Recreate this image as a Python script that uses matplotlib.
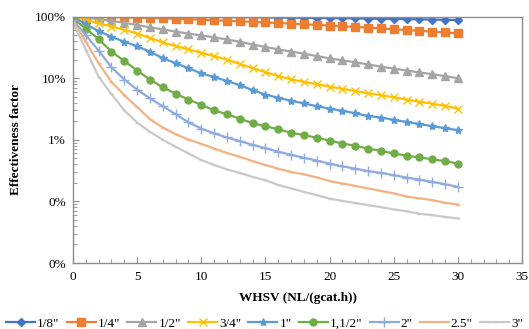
import numpy as np
import matplotlib
matplotlib.use("Agg")
import matplotlib.pyplot as plt
from matplotlib.ticker import FuncFormatter, MultipleLocator, LogLocator

plt.rcParams['font.family'] = ['Liberation Serif', 'DejaVu Serif']

whsv = list(range(0, 31))

eta_1_8 = [1.000, 1.000, 0.999, 0.999, 0.998, 0.996, 0.994, 0.993, 0.991, 0.988,
           0.986, 0.983, 0.980, 0.977, 0.973, 0.969, 0.965, 0.960, 0.956, 0.951,
           0.945, 0.940, 0.934, 0.928, 0.922, 0.915, 0.908, 0.901, 0.894, 0.886, 0.878]
eta_1_4 = [1.000, 0.998, 0.993, 0.985, 0.975, 0.963, 0.950, 0.936, 0.921, 0.905,
           0.889, 0.872, 0.855, 0.838, 0.821, 0.803, 0.786, 0.768, 0.750, 0.732,
           0.715, 0.697, 0.680, 0.662, 0.643, 0.624, 0.605, 0.587, 0.569, 0.552, 0.535]
eta_1_2 = [1.000, 0.965, 0.910, 0.850, 0.790, 0.730, 0.670, 0.620, 0.570, 0.530,
           0.495, 0.460, 0.425, 0.390, 0.352, 0.320, 0.294, 0.270, 0.250, 0.228,
           0.210, 0.195, 0.181, 0.167, 0.154, 0.143, 0.133, 0.124, 0.116, 0.108, 0.100]
eta_3_4 = [1.000, 0.890, 0.780, 0.690, 0.610, 0.530, 0.450, 0.380, 0.333, 0.293,
           0.258, 0.228, 0.200, 0.170, 0.145, 0.125, 0.108, 0.096, 0.087, 0.080,
           0.073, 0.067, 0.062, 0.057, 0.053, 0.049, 0.045, 0.0415, 0.0385, 0.0355, 0.032]
eta_1 = [1.000, 0.750, 0.580, 0.470, 0.390, 0.330, 0.268, 0.212, 0.175, 0.145,
         0.120, 0.104, 0.090, 0.077, 0.064, 0.054, 0.048, 0.043, 0.039, 0.035,
         0.032, 0.0295, 0.027, 0.0243, 0.023, 0.021, 0.0195, 0.018, 0.0166, 0.0154, 0.0143]
eta_1_1_2 = [0.930, 0.640, 0.430, 0.270, 0.190, 0.133, 0.095, 0.071, 0.056, 0.045,
             0.037, 0.030, 0.026, 0.022, 0.0186, 0.0166, 0.0148, 0.0130, 0.0119, 0.0108,
             0.0097, 0.0087, 0.0080, 0.0072, 0.0066, 0.0060, 0.0055, 0.0052, 0.0048, 0.0045, 0.0041]
eta_2 = [0.880, 0.500, 0.280, 0.150, 0.095, 0.065, 0.047, 0.035, 0.026, 0.0192,
         0.0152, 0.0127, 0.0109, 0.0095, 0.0083, 0.0073, 0.0064, 0.0057, 0.0051, 0.0046,
         0.0041, 0.0037, 0.0034, 0.0031, 0.0029, 0.00266, 0.00244, 0.00226, 0.00207, 0.0019, 0.00172]
eta_2_5 = [0.840, 0.390, 0.174, 0.087, 0.053, 0.034, 0.0215, 0.0158, 0.0123, 0.0101,
           0.0086, 0.0072, 0.0061, 0.0053, 0.0045, 0.0039, 0.0034, 0.0030, 0.00275, 0.00245,
           0.00214, 0.00195, 0.00178, 0.00162, 0.00148, 0.00135, 0.00120, 0.00112, 0.00105, 0.00095, 0.00089]
eta_3 = [0.800, 0.290, 0.105, 0.055, 0.030, 0.019, 0.0135, 0.0100, 0.0077, 0.0060,
         0.0047, 0.0039, 0.0033, 0.0029, 0.0025, 0.0022, 0.00185, 0.00162, 0.00143, 0.00126,
         0.00111, 0.00102, 0.00094, 0.00087, 0.00081, 0.00074, 0.00069, 0.00063, 0.00060, 0.00056, 0.00053]

labels = ['1/8"', '1/4"', '1/2"', '3/4"', '1"', '1,1/2"', '2"', '2.5"', '3"']
series = [eta_1_8, eta_1_4, eta_1_2, eta_3_4, eta_1, eta_1_1_2, eta_2, eta_2_5, eta_3]
colors = ['#4472C4', '#ED7D31', '#A5A5A5', '#FFC000', '#5B9BD5', '#70AD47',
          '#8FAADC', '#F4B183', '#C9C9C9']
markers = ['D', 's', '^', 'x', '*', 'o', '+', '_', '_']
msizes = [4, 5.5, 5.5, 6, 6, 5, 7, 3, 3]

fig = plt.figure(figsize=(5.29, 3.29), dpi=100)
ax = fig.add_axes([0.138, 0.2006, 0.849, 0.749])

for y, lab, c, m, ms in zip(series, labels, colors, markers, msizes):
    ax.plot(whsv, y, color=c, lw=1.6, marker=m, ms=ms, mew=1.0,
            mfc=c, mec=c, label=lab)

ax.set_yscale('log')
ax.set_ylim(1e-4, 1)
ax.set_xlim(0, 35)
ax.xaxis.set_major_locator(MultipleLocator(5))
ax.xaxis.set_minor_locator(MultipleLocator(1))
ax.yaxis.set_major_locator(LogLocator(base=10, numticks=10))
ax.yaxis.set_minor_locator(LogLocator(base=10, subs=np.arange(2, 10), numticks=20))
ax.yaxis.set_major_formatter(FuncFormatter(lambda v, p: '{:.0f}%'.format(v * 100)))
ax.yaxis.set_minor_formatter(FuncFormatter(lambda v, p: ''))

for s in ax.spines.values():
    s.set_color('#8c8c8c')
    s.set_linewidth(1.0)
ax.tick_params(which='both', direction='in', color='#8c8c8c', labelsize=9.5)
ax.tick_params(which='major', length=4)
ax.tick_params(which='minor', length=3)
ax.tick_params(axis='x', pad=6)
ax.tick_params(axis='y', pad=5)
ax.tick_params(top=False, right=False, which='both')

ax.set_xlabel('WHSV (NL/(gcat.h))', fontsize=9.5, fontweight='bold', labelpad=6)
ax.set_ylabel('Effectiveness factor', fontsize=9.5, fontweight='bold', labelpad=9)

fig.legend(loc='lower center', bbox_to_anchor=(0.5, -0.03), ncol=9, frameon=False,
           fontsize=9.5, handlelength=2.2, handletextpad=0.15, columnspacing=0.55,
           borderaxespad=0.3)

fig.savefig('out.png', dpi=100)
